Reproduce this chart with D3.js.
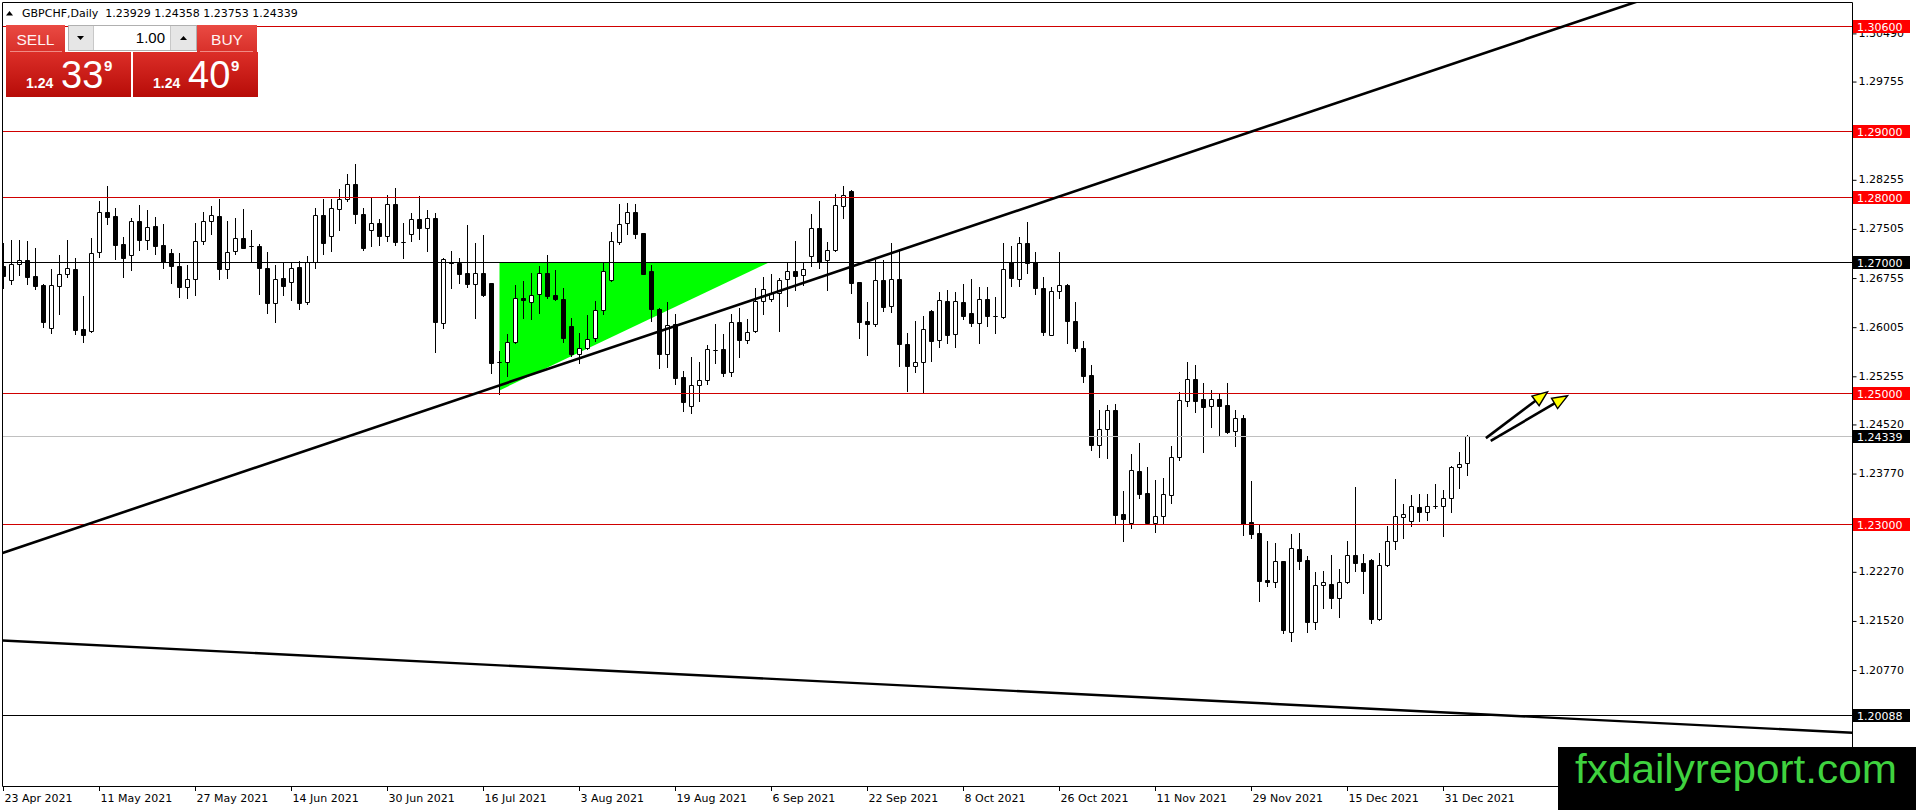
<!DOCTYPE html>
<html><head><meta charset="utf-8">
<script src="https://cdn.jsdelivr.net/npm/d3@7"></script>
<style>html,body{margin:0;padding:0;background:#fff;overflow:hidden}</style>
</head><body>
<svg id="c" width="1916" height="810" xmlns="http://www.w3.org/2000/svg"></svg>
<script>
// ---------------- DATA ----------------
const title = "GBPCHF,Daily  1.23929 1.24358 1.23753 1.24339";
const openP = [1.26939,1.26720,1.26964,1.27025,1.26786,1.26649,1.25997,1.26628,1.26812,1.26898,
1.25972,1.25941,1.27148,1.27764,1.27702,1.27270,1.27102,1.27621,1.27331,1.27545,
1.27255,1.27132,1.26939,1.26623,1.26735,1.27321,1.27621,1.27702,1.26888,1.27168,
1.27361,1.27249,1.27239,1.26908,1.26379,1.26751,1.26700,1.26924,1.26394,1.27005,
1.27713,1.27392,1.27805,1.27958,1.28187,1.27728,1.27484,1.27601,1.27397,1.27881,
1.27311,1.27423,1.27652,1.27514,1.27677,1.26073,1.26995,1.26990,1.26827,1.26669,
1.26827,1.26674,1.25477,1.25477,1.25783,1.26445,1.26394,1.26506,1.26827,1.26491,
1.26429,1.26022,1.25599,1.25691,1.25833,1.26261,1.26725,1.27311,1.27591,1.27769,
1.27443,1.26862,1.26287,1.25589,1.26047,1.25243,1.24799,1.25115,1.25192,1.25660,
1.25665,1.25324,1.26083,1.25803,1.25945,1.26404,1.26429,1.26531,1.26735,1.26862,
1.26801,1.27087,1.27514,1.27025,1.27188,1.27856,1.28085,1.26694,1.26093,1.26047,
1.26725,1.26322,1.26740,1.25747,1.25406,1.25467,1.26256,1.25808,1.26409,1.25900,
1.26394,1.26221,1.26063,1.26435,1.26180,1.26165,1.26995,1.26740,1.27290,1.26995,
1.26603,1.25884,1.26562,1.26649,1.26098,1.25681,1.25270,1.24200,1.24455,1.24735,
1.23156,1.23013,1.23803,1.23472,1.23013,1.23115,1.23446,1.24022,1.24873,1.25209,
1.24903,1.24801,1.24903,1.24812,1.24419,1.24623,1.23029,1.22866,1.22152,1.22112,
1.22428,1.21350,1.22621,1.22443,1.21500,1.22071,1.22086,1.21867,1.22112,1.22534,
1.22407,1.22453,1.21551,1.22377,1.22738,1.23105,1.23044,1.23263,1.23187,1.23268,
1.23273,1.23400,1.23874,1.23929];
const highP = [1.27295,1.27331,1.27331,1.27321,1.27209,1.26659,1.26888,1.27107,1.27331,1.27066,
1.26481,1.27361,1.27931,1.28161,1.27820,1.27382,1.27677,1.27870,1.27789,1.27692,
1.27585,1.27193,1.27132,1.26949,1.27601,1.27764,1.27855,1.27957,1.27626,1.27677,
1.27804,1.27489,1.27270,1.27153,1.26949,1.26990,1.26990,1.27015,1.27092,1.27820,
1.27958,1.27958,1.28110,1.28350,1.28500,1.27830,1.27983,1.27652,1.28024,1.28136,
1.27591,1.27754,1.28009,1.27790,1.27754,1.27056,1.27168,1.27056,1.27565,1.27295,
1.27413,1.26680,1.25640,1.25895,1.26649,1.26710,1.26837,1.26939,1.27107,1.26878,
1.26608,1.26149,1.25920,1.26185,1.26404,1.26990,1.27458,1.27881,1.27897,1.27892,
1.27448,1.26954,1.26292,1.26389,1.26210,1.25334,1.25548,1.25477,1.25732,1.26058,
1.25895,1.26210,1.26302,1.26124,1.26608,1.26771,1.26812,1.26761,1.26990,1.27321,
1.26990,1.27739,1.27932,1.27306,1.28044,1.28161,1.28100,1.26700,1.26394,1.27025,
1.27025,1.27285,1.27199,1.25915,1.26103,1.26180,1.26266,1.26536,1.26577,1.26536,
1.26664,1.26740,1.26613,1.26623,1.26460,1.27285,1.27250,1.27387,1.27606,1.27158,
1.26776,1.26623,1.27148,1.26664,1.26384,1.25798,1.25423,1.24735,1.24812,1.24827,
1.23497,1.24073,1.24236,1.23869,1.23676,1.23701,1.24185,1.25015,1.25480,1.25423,
1.25153,1.25041,1.24980,1.25158,1.24735,1.24659,1.23650,1.22978,1.22748,1.22708,
1.22440,1.22850,1.22866,1.22504,1.22265,1.22290,1.22534,1.22315,1.22748,1.23563,
1.22545,1.22468,1.22555,1.22962,1.23691,1.23309,1.23436,1.23462,1.23451,1.23604,
1.23513,1.23880,1.24098,1.24358];
const lowP = [1.26608,1.26669,1.26801,1.26669,1.26593,1.26013,1.25921,1.26211,1.26771,1.25895,
1.25783,1.25930,1.27076,1.27585,1.27051,1.26771,1.26873,1.27178,1.27204,1.27117,
1.26913,1.26684,1.26471,1.26455,1.26496,1.27270,1.27433,1.26735,1.26751,1.27127,
1.27210,1.27000,1.26506,1.26226,1.26089,1.26496,1.26415,1.26277,1.26363,1.26913,
1.27127,1.27168,1.27484,1.27932,1.27601,1.27183,1.27245,1.27260,1.27321,1.27260,
1.27066,1.27321,1.27346,1.27168,1.25630,1.25996,1.26598,1.26684,1.26618,1.26149,
1.26480,1.25309,1.24978,1.25258,1.25767,1.26139,1.26124,1.26226,1.26445,1.26419,
1.25783,1.25563,1.25462,1.25665,1.25793,1.26200,1.26710,1.27270,1.27423,1.27372,
1.26812,1.26098,1.25375,1.25400,1.25130,1.24720,1.24700,1.24876,1.25130,1.25462,
1.25258,1.25258,1.25553,1.25757,1.25935,1.26210,1.26404,1.25945,1.26328,1.26567,
1.26649,1.26939,1.26913,1.26567,1.27168,1.27667,1.26531,1.25833,1.25574,1.26022,
1.26251,1.26231,1.25406,1.25024,1.25324,1.24998,1.25482,1.25696,1.25757,1.25696,
1.26129,1.26017,1.25757,1.26017,1.25910,1.26144,1.26628,1.26628,1.26827,1.26511,
1.25889,1.25880,1.26450,1.25757,1.25635,1.25161,1.24124,1.24022,1.24012,1.23003,
1.22748,1.22937,1.23395,1.23003,1.22876,1.23003,1.23319,1.23981,1.24801,1.24710,
1.24098,1.24480,1.24343,1.24389,1.24185,1.22835,1.22789,1.21821,1.22051,1.22035,
1.21332,1.21220,1.22315,1.21348,1.21399,1.21714,1.21714,1.21577,1.22097,1.22280,
1.21944,1.21490,1.21540,1.22356,1.22616,1.22784,1.22967,1.23044,1.23064,1.23243,
1.22815,1.23181,1.23548,1.23753];
const closeP = [1.26786,1.26964,1.27025,1.26771,1.26634,1.26089,1.26649,1.26812,1.26903,1.25962,
1.25880,1.27143,1.27764,1.27692,1.27265,1.27066,1.27621,1.27331,1.27529,1.27249,
1.27000,1.26944,1.26623,1.26735,1.27321,1.27621,1.27713,1.26888,1.27148,1.27361,
1.27219,1.27245,1.26903,1.26369,1.26735,1.26639,1.26903,1.26379,1.27005,1.27713,
1.27295,1.27820,1.27958,1.28187,1.27728,1.27209,1.27591,1.27397,1.27881,1.27311,
1.27300,1.27652,1.27514,1.27677,1.26088,1.27041,1.26985,1.26822,1.26669,1.26827,
1.26496,1.25462,1.25472,1.25783,1.26455,1.26419,1.26491,1.26827,1.26480,1.26429,
1.25833,1.25589,1.25691,1.25828,1.26261,1.26862,1.27321,1.27576,1.27769,1.27433,
1.26822,1.26277,1.25599,1.26032,1.25222,1.24866,1.25115,1.25192,1.25665,1.25650,
1.25309,1.26088,1.25803,1.25935,1.26404,1.26582,1.26531,1.26720,1.26862,1.26786,
1.26898,1.27514,1.27005,1.27188,1.27871,1.28024,1.26684,1.26088,1.26047,1.26720,
1.26317,1.26740,1.25747,1.25406,1.25467,1.25976,1.25798,1.26424,1.25889,1.26409,
1.26170,1.26068,1.26435,1.26170,1.26170,1.26893,1.26750,1.27290,1.26985,1.26603,
1.25925,1.26552,1.26649,1.26093,1.25681,1.25253,1.24200,1.24455,1.24735,1.23141,
1.23074,1.23818,1.23462,1.23013,1.23115,1.23451,1.24022,1.24888,1.25209,1.24878,
1.24786,1.24913,1.24801,1.24404,1.24623,1.23003,1.22850,1.22127,1.22112,1.22428,
1.21383,1.22636,1.22433,1.21500,1.22071,1.22107,1.21867,1.22122,1.22529,1.22402,
1.22280,1.21551,1.22377,1.22738,1.23115,1.23156,1.23278,1.23187,1.23278,1.23273,
1.23400,1.23874,1.23920,1.24339];

const dateLabels = ["23 Apr 2021","11 May 2021","27 May 2021","14 Jun 2021","30 Jun 2021","16 Jul 2021",
"3 Aug 2021","19 Aug 2021","6 Sep 2021","22 Sep 2021","8 Oct 2021","26 Oct 2021","11 Nov 2021",
"29 Nov 2021","15 Dec 2021","31 Dec 2021"];
const dateLabelBars = [0,12,24,36,48,60,72,84,96,108,120,132,144,156,168,180];

const priceTicks = [1.30490,1.29755,1.28255,1.27505,1.26755,1.26005,1.25255,1.24520,1.23770,1.22270,1.21520,1.20770];
const priceTickLabels = ["1.30490","1.29755","1.28255","1.27505","1.26755","1.26005","1.25255","1.24520","1.23770","1.22270","1.21520","1.20770"];

const redLevels = [1.30600,1.29000,1.28000,1.25000,1.23000];
const redLevelLabels = ["1.30600","1.29000","1.28000","1.25000","1.23000"];
const blackLevels = [1.27000,1.20088];
const blackLevelLabels = ["1.27000","1.20088"];
const bidLevel = 1.24339;
const bidLabel = "1.24339";

const upTrend = [[0,1.22563],[200,1.30803]];
const downTrend = [[0,1.21220],[231,1.19814]];
const triangle = [[62,1.27000],[62,1.25040],[95.8,1.27000]];
const arrows = [[[185.3,1.24311],[193.0,1.25018]],[[185.9,1.24270],[195.5,1.24957]]];

const sellPrice = ["1.24","33","9"];
const buyPrice = ["1.24","40","9"];
const lotText = "1.00";
const watermark = "fxdailyreport.com";

// ---------------- CHART ----------------
const svg = d3.select('#c');
const W = 1916, H = 810;
const plotL = 2.5, plotT = 2.5, plotR = 1852.5, plotB = 786.5;

const x = d3.scaleLinear().domain([0, 231]).range([3.5, 3.5 + 8 * 231]);
const y = d3.scaleLinear().domain([1.27, 1.23]).range([262, 524]);
const py = p => Math.round(y(p)) + 0.5;

const defs = svg.append('defs');
defs.append('clipPath').attr('id','plotclip').append('rect')
  .attr('x', plotL).attr('y', plotT).attr('width', plotR - plotL).attr('height', plotB - plotT);
const gb = defs.append('linearGradient').attr('id','btnGrad').attr('x1',0).attr('y1',0).attr('x2',0).attr('y2',1);
gb.append('stop').attr('offset','0%').attr('stop-color','#ea4a43');
gb.append('stop').attr('offset','100%').attr('stop-color','#d8302a');
const gp = defs.append('linearGradient').attr('id','priceGrad').attr('x1',0).attr('y1',0).attr('x2',0).attr('y2',1);
gp.append('stop').attr('offset','0%').attr('stop-color','#dc2e28');
gp.append('stop').attr('offset','100%').attr('stop-color','#b70c08');

svg.append('rect').attr('width', W).attr('height', H).attr('fill', '#fff');

const plot = svg.append('g').attr('clip-path','url(#plotclip)');

// green triangle (background object)
plot.append('path')
  .attr('d', d3.line().x(d => x(d[0])).y(d => y(d[1]))(triangle) + 'Z')
  .attr('fill', '#00ff00');

// candles
const bars = d3.range(openP.length).map(i => ({i, o: openP[i], h: highP[i], l: lowP[i], c: closeP[i]}));
plot.append('g').selectAll('line').data(bars).join('line')
  .attr('x1', d => x(d.i)).attr('x2', d => x(d.i))
  .attr('y1', d => Math.round(y(d.h))).attr('y2', d => Math.round(y(d.l)) + 1)
  .attr('stroke', '#000').attr('stroke-width', 1);
plot.append('g').selectAll('path').data(bars).join('path')
  .attr('d', d => {
    const t = py(Math.max(d.o, d.c)), b = py(Math.min(d.o, d.c));
    const x0 = x(d.i) - 2;
    return `M${x0},${t}h4V${b}h-4Z`;
  })
  .attr('fill', d => d.c > d.o ? '#fff' : '#000')
  .attr('stroke', '#000').attr('stroke-width', 1);

// horizontal levels
plot.append('line').attr('x1', plotL).attr('x2', plotR).attr('y1', py(bidLevel)).attr('y2', py(bidLevel))
  .attr('stroke', '#c0c0c0').attr('stroke-width', 1);
plot.append('g').selectAll('line').data(redLevels).join('line')
  .attr('x1', plotL).attr('x2', plotR).attr('y1', d => py(d)).attr('y2', d => py(d))
  .attr('stroke', '#d00000').attr('stroke-width', 1);
plot.append('g').selectAll('line').data(blackLevels).join('line')
  .attr('x1', plotL).attr('x2', plotR).attr('y1', d => py(d)).attr('y2', d => py(d))
  .attr('stroke', '#000').attr('stroke-width', 1);

// trend lines (rays extended across the plot)
function extLine(pts) {
  const [a, b] = pts;
  const slope = (b[1] - a[1]) / (b[0] - a[0]);
  const i0 = x.invert(plotL), i1 = x.invert(plotR);
  return [[i0, a[1] + (i0 - a[0]) * slope], [i1, a[1] + (i1 - a[0]) * slope]];
}
const tl = d3.line().x(d => x(d[0])).y(d => y(d[1]));
plot.append('path').attr('d', tl(extLine(upTrend))).attr('stroke', '#000').attr('stroke-width', 2.6).attr('fill', 'none');
plot.append('path').attr('d', tl(extLine(downTrend))).attr('stroke', '#000').attr('stroke-width', 2.4).attr('fill', 'none');

// arrows
arrows.forEach(a => {
  const x0 = x(a[0][0]), y0 = y(a[0][1]), x1 = x(a[1][0]), y1 = y(a[1][1]);
  const len = Math.hypot(x1 - x0, y1 - y0), ux = (x1 - x0) / len, uy = (y1 - y0) / len;
  const hl = 15, hw = 6;
  const bx = x1 - ux * hl, by = y1 - uy * hl;
  plot.append('line').attr('x1', x0).attr('y1', y0).attr('x2', bx).attr('y2', by)
    .attr('stroke', '#000').attr('stroke-width', 2.6);
  plot.append('path')
    .attr('d', `M${x1},${y1}L${bx - uy * hw},${by + ux * hw}L${bx + uy * hw},${by - ux * hw}Z`)
    .attr('fill', '#ffff00').attr('stroke', '#000').attr('stroke-width', 1.4).attr('stroke-linejoin', 'miter');
});

// frame
svg.append('path').attr('d', `M${plotL},${plotB}V${plotT}H${plotR}V${plotB}`)
  .attr('fill', 'none').attr('stroke', '#000').attr('stroke-width', 1);
svg.append('line').attr('x1', plotL).attr('x2', plotR).attr('y1', plotB).attr('y2', plotB)
  .attr('stroke', '#000').attr('stroke-width', 1);

// price axis
const axFont = '"DejaVu Sans", sans-serif';
const yAxis = svg.append('g').attr('transform', `translate(${plotR},0)`)
  .call(d3.axisRight(y).tickValues(priceTicks).tickFormat((d, i) => priceTickLabels[i]).tickSize(4).tickPadding(2).offset(0))
  .call(g => g.select('.domain').remove());
yAxis.selectAll('.tick line').attr('stroke', '#000').attr('transform', 'translate(0,0.5)');
yAxis.selectAll('.tick text').attr('font-family', axFont).attr('font-size', 11).attr('fill', '#000');

function levelBox(val, label, fill) {
  const yy = Math.round(y(val));
  svg.append('rect').attr('x', 1853).attr('y', yy - 6).attr('width', 57).attr('height', 13).attr('fill', fill);
  svg.append('text').attr('x', 1857).attr('y', yy + 4.5).text(label)
    .attr('font-family', axFont).attr('font-size', 11).attr('fill', '#fff');
}
redLevels.forEach((v, i) => levelBox(v, redLevelLabels[i], '#ff0000'));
blackLevels.forEach((v, i) => levelBox(v, blackLevelLabels[i], '#000'));
levelBox(bidLevel, bidLabel, '#000');

// date axis
const xAxis = svg.append('g').attr('transform', `translate(0,${plotB - 0.5})`)
  .call(d3.axisBottom(x).tickValues(dateLabelBars).tickFormat((d, i) => dateLabels[i]).tickSize(5).offset(0))
  .call(g => g.select('.domain').remove());
xAxis.selectAll('.tick line').attr('stroke', '#000');
xAxis.selectAll('.tick text').attr('font-family', axFont).attr('font-size', 11).attr('fill', '#000')
  .attr('text-anchor', 'start').attr('x', 1).attr('dy', null).attr('y', 16);

// title
svg.append('path').attr('d', 'M6,15.5L9.5,11L13,15.5Z').attr('fill', '#000');
svg.append('text').attr('x', 22).attr('y', 17).attr('xml:space', 'preserve').style('white-space', 'pre')
  .attr('font-family', axFont).attr('font-size', 11).attr('fill', '#000').text(title);

// trade panel
const pf = '"Liberation Sans", Arial, sans-serif';
const panel = svg.append('g');
panel.append('rect').attr('x', 6).attr('y', 25).attr('width', 59).attr('height', 27).attr('fill', 'url(#btnGrad)');
panel.append('rect').attr('x', 197).attr('y', 25).attr('width', 60).attr('height', 27).attr('fill', 'url(#btnGrad)');
panel.append('line').attr('x1', 10).attr('x2', 62).attr('y1', 51.5).attr('y2', 51.5).attr('stroke', '#f08a85');
panel.append('line').attr('x1', 200).attr('x2', 253).attr('y1', 51.5).attr('y2', 51.5).attr('stroke', '#f08a85');
panel.append('text').attr('x', 35.5).attr('y', 45).attr('text-anchor', 'middle').text('SELL')
  .attr('font-family', pf).attr('font-size', 15.5).attr('fill', '#fff3f3');
panel.append('text').attr('x', 227).attr('y', 45).attr('text-anchor', 'middle').text('BUY')
  .attr('font-family', pf).attr('font-size', 15.5).attr('fill', '#fff3f3');
// spinner
panel.append('rect').attr('x', 68.5).attr('y', 25.5).attr('width', 128).attr('height', 25).attr('fill', '#fff').attr('stroke', '#b0b0b0');
panel.append('rect').attr('x', 69).attr('y', 26).attr('width', 24).attr('height', 24).attr('fill', '#e6e6e6');
panel.append('rect').attr('x', 171).attr('y', 26).attr('width', 25).attr('height', 24).attr('fill', '#e6e6e6');
panel.append('line').attr('x1', 93.5).attr('x2', 93.5).attr('y1', 26).attr('y2', 50).attr('stroke', '#c8c8c8');
panel.append('line').attr('x1', 170.5).attr('x2', 170.5).attr('y1', 26).attr('y2', 50).attr('stroke', '#c8c8c8');
panel.append('path').attr('d', 'M77,36H84L80.5,40Z').attr('fill', '#000');
panel.append('path').attr('d', 'M180,40H187L183.5,36Z').attr('fill', '#000');
panel.append('text').attr('x', 165).attr('y', 43).attr('text-anchor', 'end').text(lotText)
  .attr('font-family', pf).attr('font-size', 15).attr('fill', '#000');
// price boxes
[[6, sellPrice], [133, buyPrice]].forEach(([bx, pr]) => {
  panel.append('rect').attr('x', bx).attr('y', 52).attr('width', 125).attr('height', 45).attr('fill', 'url(#priceGrad)');
  panel.append('text').attr('x', bx + 20).attr('y', 88).text(pr[0])
    .attr('font-family', pf).attr('font-weight', 'bold').attr('font-size', 14).attr('fill', '#fff');
  panel.append('text').attr('x', bx + 55).attr('y', 88).text(pr[1])
    .attr('font-family', pf).attr('font-size', 38).attr('fill', '#fff');
  panel.append('text').attr('x', bx + 98).attr('y', 71).text(pr[2])
    .attr('font-family', pf).attr('font-weight', 'bold').attr('font-size', 15).attr('fill', '#fff');
});

// watermark
svg.append('rect').attr('x', 1558).attr('y', 747).attr('width', 358).attr('height', 63).attr('fill', '#000');
svg.append('text').attr('x', 1575).attr('y', 783).text(watermark)
  .attr('font-family', pf).attr('font-size', 40)
  .attr('textLength', 322).attr('lengthAdjust', 'spacingAndGlyphs').attr('fill', '#3fd23f');
</script>
</body></html>
